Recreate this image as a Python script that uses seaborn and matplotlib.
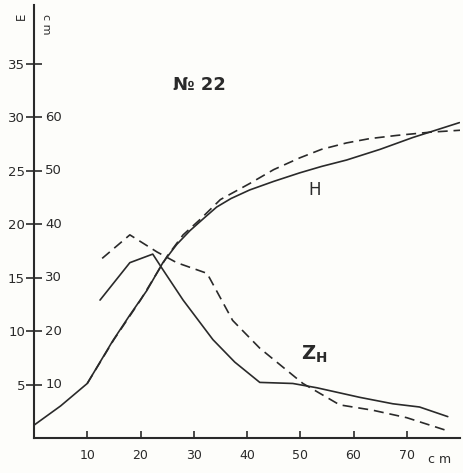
import matplotlib
matplotlib.use("Agg")
import matplotlib.pyplot as plt
import matplotlib.transforms as mtransforms
import seaborn as sns
import pandas as pd

# Data (left scale units, E)
h_solid_x = [0, 5, 10, 14.8, 18, 21.2, 24.2, 26.8, 29.3, 32, 34.3, 37, 40.5, 45, 49.9, 54, 58.7, 65, 71.1, 75.5, 79.9]
h_solid_y = [1.2, 3.0, 5.1, 9.1, 11.5, 13.8, 16.4, 18.1, 19.4, 20.6, 21.6, 22.4, 23.2, 24.0, 24.8, 25.4, 26.0, 27.0, 28.1, 28.8, 29.5]

h_dash_x = [10, 15, 20, 25, 28, 31.1, 35, 40.5, 45, 49.9, 54, 58.7, 63, 68.1, 74.3, 80.5]
h_dash_y = [5.1, 9.2, 12.9, 17.0, 19.0, 20.4, 22.3, 23.8, 25.1, 26.2, 27.0, 27.6, 28.0, 28.3, 28.6, 28.8]

z_solid_x = [12.4, 18.0, 22.3, 24.0, 28.0, 33.6, 37.7, 42.4, 48.6, 53.1, 61.2, 67.4, 72.4, 77.7]
z_solid_y = [12.9, 16.4, 17.2, 15.9, 12.9, 9.2, 7.1, 5.2, 5.1, 4.7, 3.8, 3.2, 2.9, 2.0]

z_dash_x = [12.8, 18.0, 23.1, 26.8, 32.5, 37.3, 42.4, 50.5, 57.4, 63.6, 70.0, 77.5]
z_dash_y = [16.8, 19.0, 17.4, 16.4, 15.4, 11.0, 8.4, 5.1, 3.1, 2.6, 1.9, 0.7]

x_ticks = [10, 20, 30, 40, 50, 60, 70]
y_ticks = [5, 10, 15, 20, 25, 30, 35]
y_right_labels = [10, 20, 30, 40, 50, 60]

frames = []
for name, xs, ys in [("H_solid", h_solid_x, h_solid_y), ("H_dash", h_dash_x, h_dash_y),
                     ("Z_solid", z_solid_x, z_solid_y), ("Z_dash", z_dash_x, z_dash_y)]:
    frames.append(pd.DataFrame({"x": xs, "y": ys, "series": name}))
df = pd.concat(frames, ignore_index=True)

sns.set_style("white")
plt.rcParams["font.family"] = ["DejaVu Sans"]

ink = "#2a2a2a"
bg = "#fdfdfa"
fig = plt.figure(figsize=(4.63, 4.73), dpi=100, facecolor=bg)
ax = fig.add_axes([34 / 463, 35 / 473, 426 / 463, 433 / 473])
ax.set_facecolor(bg)

for name in ["H_solid", "Z_solid"]:
    sns.lineplot(data=df[df.series == name], x="x", y="y", ax=ax, color=ink,
                 linewidth=1.2, sort=False, estimator=None)
for name in ["H_dash", "Z_dash"]:
    sns.lineplot(data=df[df.series == name], x="x", y="y", ax=ax, color=ink,
                 linewidth=1.2, sort=False, estimator=None, dashes=False,
                 linestyle=(0, (6, 3.5)))

ax.set_xlim(0, 80)
ax.set_ylim(0, 40.5)
ax.set_xlabel("")
ax.set_ylabel("")
for s in ["top", "right"]:
    ax.spines[s].set_visible(False)
for s in ["left", "bottom"]:
    ax.spines[s].set_color(ink)
    ax.spines[s].set_linewidth(1.5)

ax.set_xticks(x_ticks)
ax.set_xticklabels([str(v) for v in x_ticks], fontsize=9, color=ink)
ax.tick_params(axis="x", bottom=True, direction="in", length=5, width=1.2, color=ink, pad=8)
ax.set_yticks(y_ticks)
ax.set_yticklabels([str(v) for v in y_ticks], fontsize=9.5, color=ink)
ax.tick_params(axis="y", left=True, direction="inout", length=11, width=1.2, color=ink, pad=1)

trans = mtransforms.blended_transform_factory(ax.transAxes, ax.transData)
for v in y_right_labels:
    ax.text(0.026, v / 2, str(v), transform=trans, fontsize=9.5, color=ink,
            ha="left", va="center")

ax.text(0.953, -0.05, "c m", transform=ax.transAxes, fontsize=9, color=ink,
        ha="center", va="center")
ax.text(-0.03, 0.975, "E", transform=ax.transAxes, fontsize=8.5, color=ink,
        ha="center", va="center", rotation=90)
ax.text(0.027, 0.955, "c m", transform=ax.transAxes, fontsize=8, color=ink,
        ha="center", va="center", rotation=270)

ax.text(31, 33, "№ 22", fontsize=13, color=ink, ha="center", va="center", fontweight="bold")
ax.text(52.7, 23.2, "H", fontsize=12, color=ink, ha="center", va="center")
ax.text(52.7, 7.8, r"Z$_\mathregular{H}$", fontsize=14, color=ink, ha="center", va="center",
        fontweight="bold")

fig.savefig("out.png", dpi=100, facecolor=bg)
